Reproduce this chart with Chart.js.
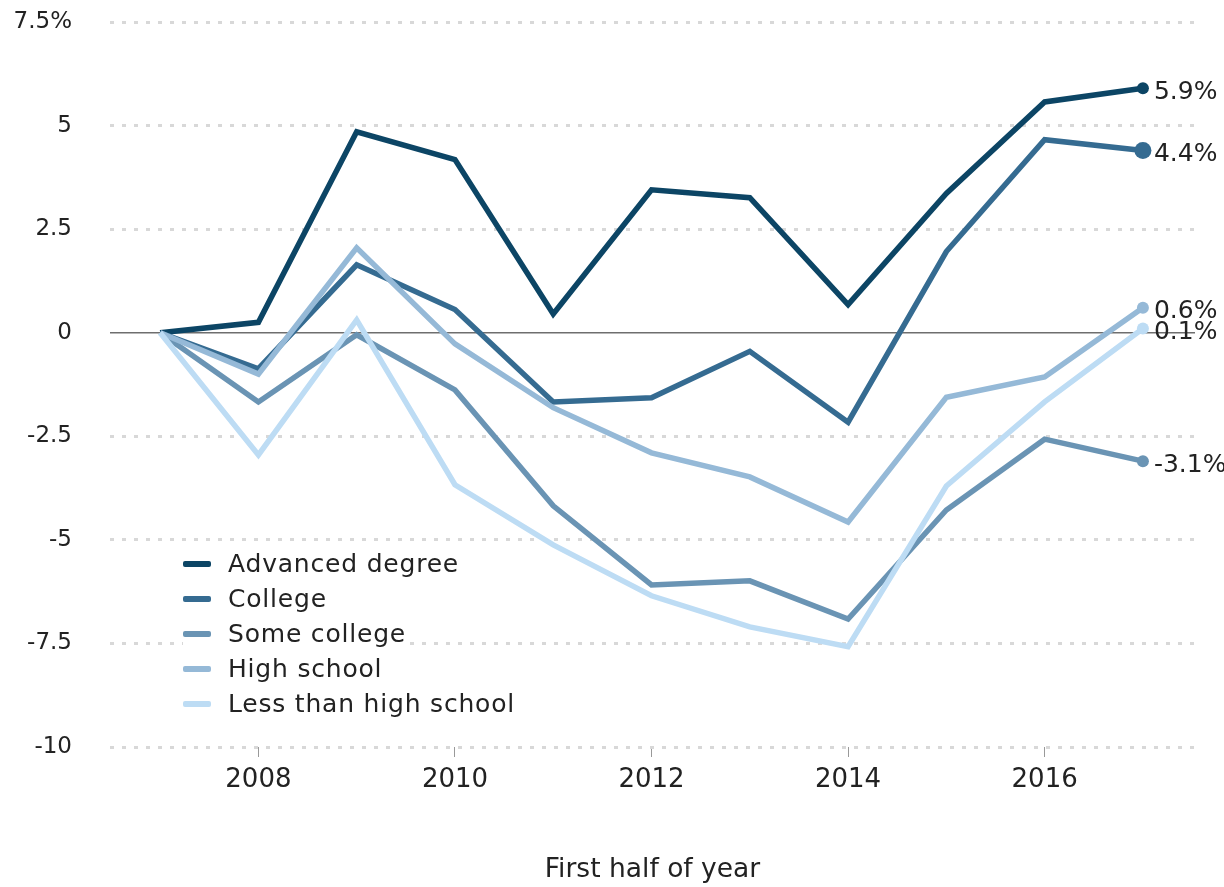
<!DOCTYPE html>
<html>
<head>
<meta charset="utf-8">
<script src="https://cdn.jsdelivr.net/npm/chart.js@4"></script>
<style>
  html, body { margin: 0; padding: 0; background: #fff; }
  #wrap { position: relative; width: 1224px; height: 887px; }
  #legend { position: absolute; left: 183px; top: 546px; font-family: 'DejaVu Sans', sans-serif; font-size: 25px; letter-spacing: 0.8px; color: #222; }
  .leg-row { display: flex; align-items: center; width: fit-content; height: 35px; background: #fff; padding-right: 2px; }
  .leg-mark { width: 28px; height: 6px; border-radius: 2px; margin-right: 17px; }
</style>
</head>
<body>
<div id="wrap">
  <canvas id="chart" width="1224" height="887"></canvas>
  <div id="legend"></div>
</div>
<script>
// ── Data ─────────────────────────────────────────────────────────────────────
const years = [2007, 2008, 2009, 2010, 2011, 2012, 2013, 2014, 2015, 2016, 2017];
const xTicks = [2008, 2010, 2012, 2014, 2016];
const yTicks = [-10, -7.5, -5, -2.5, 0, 2.5, 5, 7.5];

const advanced    = [0, 0.25, 4.85, 4.18, 0.45, 3.45, 3.26, 0.68, 3.36, 5.57, 5.9];
const college     = [0, -0.87, 1.64, 0.56, -1.67, -1.57, -0.45, -2.16, 1.96, 4.66, 4.4];
const someCollege = [0, -1.67, -0.05, -1.38, -4.18, -6.09, -5.99, -6.91, -4.28, -2.57, -3.1];
const highSchool  = [0, -1.0, 2.05, -0.27, -1.81, -2.9, -3.48, -4.57, -1.56, -1.07, 0.6];
const lessThanHS  = [0, -2.95, 0.31, -3.67, -5.12, -6.35, -7.1, -7.58, -3.7, -1.67, 0.1];

const seriesNames  = ['Advanced degree', 'College', 'Some college', 'High school', 'Less than high school'];
const seriesValues = [advanced, college, someCollege, highSchool, lessThanHS];
const seriesColors = ['#0c4565', '#356b91', '#6a94b4', '#95b9d7', '#bddcf4'];
const endRadius    = [6, 8.5, 6, 6, 6];

const FONT = "'DejaVu Sans', sans-serif";

// ── End labels plugin ────────────────────────────────────────────────────────
const endLabels = {
    id: 'endLabels',
    afterDatasetsDraw(chart) {
        const c = chart.ctx;
        c.save();
        c.font = `25px ${FONT}`;
        c.fillStyle = '#222';
        c.textAlign = 'left';
        c.textBaseline = 'middle';
        chart.data.datasets.forEach((ds, i) => {
            const meta = chart.getDatasetMeta(i);
            const pt = meta.data[meta.data.length - 1];
            const v = ds.data[ds.data.length - 1].y;
            c.fillText(v.toFixed(1) + '%', pt.x + 11, pt.y + 4);
        });
        c.restore();
    }
};

// ── Chart ────────────────────────────────────────────────────────────────────
const datasets = seriesNames.map((name, i) => ({
    label: name,
    data: years.map((yr, j) => ({ x: yr, y: seriesValues[i][j] })),
    borderColor: seriesColors[i],
    backgroundColor: seriesColors[i],
    borderWidth: 5.5,
    pointRadius: ctx => ctx.dataIndex === years.length - 1 ? endRadius[i] : 0,
    pointBorderWidth: 0,
    tension: 0,
    order: seriesNames.length - i,
}));

const chart = new Chart(document.getElementById('chart'), {
    type: 'line',
    data: { datasets },
    options: {
        responsive: false,
        animation: false,
        layout: { padding: { top: 22, right: 29, bottom: 0, left: 0 } },
        plugins: { legend: { display: false }, tooltip: { enabled: false } },
        scales: {
            x: {
                type: 'linear',
                min: 2006.49,
                max: 2017.53,
                afterBuildTicks: s => { s.ticks = xTicks.map(v => ({ value: v })); },
                afterFit: s => { s.height = 140; },
                grid: { drawOnChartArea: false, drawTicks: true, tickLength: 10, tickColor: '#999', tickWidth: 1 },
                border: { display: false },
                ticks: { color: '#222', font: { family: FONT, size: 26 }, padding: 8, maxRotation: 0, callback: v => String(v) },
                title: { display: true, text: 'First half of year', color: '#222', font: { family: FONT, size: 26.5 }, padding: { top: 0, bottom: 1 } }
            },
            y: {
                min: -10,
                max: 7.5,
                afterBuildTicks: s => { s.ticks = yTicks.map(v => ({ value: v })); },
                afterFit: s => { s.width = 110; },
                grid: {
                    drawTicks: true,
                    tickLength: 30,
                    tickColor: 'rgba(0,0,0,0)',
                    color: ctx => ctx.tick && ctx.tick.value === 0 ? '#6e6e6e' : '#d8d8d8',
                    lineWidth: ctx => ctx.tick && ctx.tick.value === 0 ? 1.5 : 3,
                },
                border: { display: false, dash: ctx => ctx.tick && ctx.tick.value === 0 ? [] : [4, 8] },
                ticks: {
                    color: '#222', font: { family: FONT, size: 23 }, padding: 8,
                    callback: v => v === 7.5 ? '7.5%' : String(v)
                }
            }
        }
    },
    plugins: [endLabels]
});

// ── HTML legend ──────────────────────────────────────────────────────────────
const legendBox = document.getElementById('legend');
seriesNames.forEach((name, i) => {
    const row = document.createElement('div');
    row.className = 'leg-row';
    row.innerHTML = `<span class="leg-mark" style="background:${seriesColors[i]}"></span><span>${name}</span>`;
    legendBox.appendChild(row);
});
</script>
</body>
</html>
